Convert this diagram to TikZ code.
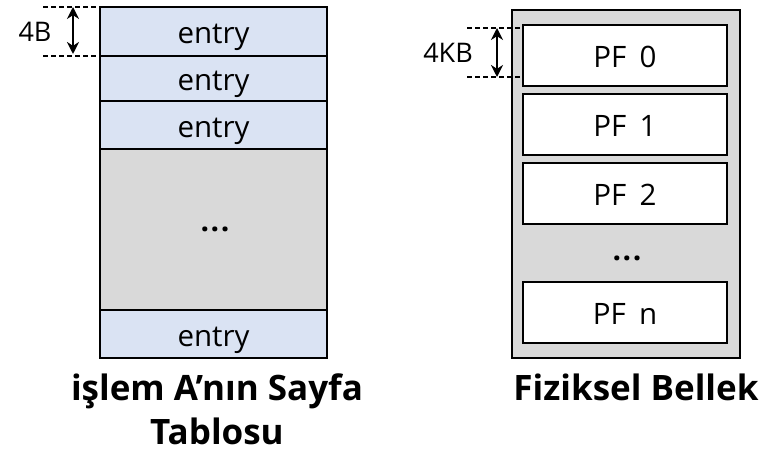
\documentclass[tikz,border=0pt]{standalone}
\usepackage{fontspec}
\setmainfont{Open Sans}
\usetikzlibrary{arrows.meta}
\definecolor{entryblue}{HTML}{DAE3F3}
\definecolor{panelgray}{HTML}{D9D9D9}
\newcommand{\pfgap}{\hspace{0.45em}}

\begin{document}
\begin{tikzpicture}[x=1pt,y=-1pt,
  box/.style={draw=black, line width=2.4pt, anchor=north west, inner sep=0pt, outer sep=0pt,
    text height=25pt, text depth=0pt, font=\fontsize{29.5}{32}\selectfont},
  entrycell/.style={box, fill=entryblue, minimum width=227pt},
  frame/.style={box, fill=panelgray},
  pfcell/.style={box, fill=white, minimum width=204pt, minimum height=61pt},
  lbl/.style={inner sep=0pt, font=\fontsize{27}{32}\selectfont},
  dots/.style={inner sep=0pt, font=\fontsize{30}{32}\selectfont\bfseries},
  title/.style={inner sep=0pt, align=center, font=\fontsize{35}{44}\selectfont\bfseries},
  dim/.style={line width=2pt, dash pattern=on 5pt off 3pt},
  measure/.style={line width=2pt, {Stealth[length=12pt,width=12pt]}-{Stealth[length=12pt,width=12pt]}}]
\useasboundingbox (0,0) rectangle (764,454);

% page table of process A
\node[entrycell, minimum height=49pt] (e1) at (100,7) {entry};
\node[entrycell, minimum height=45pt] (e2) at (100,56) {entry};
\node[entrycell, minimum height=48pt] (e3) at (100,101) {entry};
\node[box, fill=panelgray, minimum width=227pt, minimum height=161pt] (gap) at (100,149) {};
\node[dots] (d1) at (215,229) {.\hspace{1.6pt}.\hspace{1.6pt}.};
\node[entrycell, minimum height=48pt] (en) at (100,310) {entry};

% size of one entry
\coordinate (t1) at (43,7);
\coordinate (b1) at (43,56);
\draw[dim] (t1) -- (e1.north west);
\draw[dim] (b1) -- (e1.south west);
\coordinate (a1) at (73,7);
\coordinate (a2) at (73,54);
\draw[measure] (a1) -- (a2);
\node[lbl] (s1) at (35,32) {4B};

\node[title, anchor=north] (tl) at (217,374) {işlem A’nın Sayfa\\Tablosu};

% physical memory
\node[frame, minimum width=228pt, minimum height=348pt] (mem) at (512,10) {};
\node[pfcell] (p0) at (523,25) {PF\pfgap 0};
\node[pfcell] (p1) at (523,94) {PF\pfgap 1};
\node[pfcell] (p2) at (523,163) {PF\pfgap 2};
\node[dots] (d2) at (627,258) {.\hspace{1.6pt}.\hspace{1.6pt}.};
\node[pfcell] (pn) at (523,282) {PF\pfgap n};

% size of one frame
\coordinate (t2) at (467,28);
\coordinate (b2) at (467,77);
\coordinate (t2e) at (523,28);
\coordinate (b2e) at (523,77);
\draw[dim] (t2) -- (t2e);
\draw[dim] (b2) -- (b2e);
\coordinate (a3) at (497,28);
\coordinate (a4) at (497,77);
\draw[measure] (a3) -- (a4);
\node[lbl] (s2) at (448,53) {4KB};

\node[title, anchor=base] (tr) at (636,401) {Fiziksel Bellek};
\end{tikzpicture}
\end{document}
